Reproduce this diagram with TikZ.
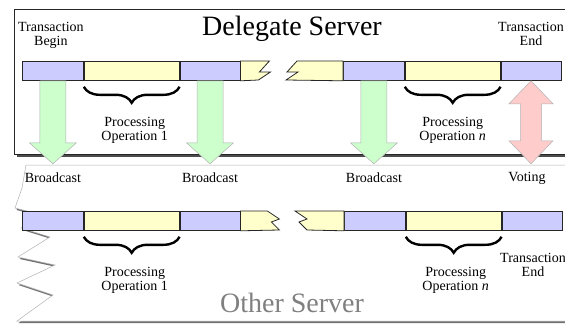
\documentclass[tikz,border=0pt]{standalone}
\usepackage{fontspec}
\setmainfont{Liberation Serif}
\usetikzlibrary{calc,decorations.pathreplacing,positioning}

\definecolor{opblue}{RGB}{204,204,255}
\definecolor{opyellow}{RGB}{255,255,204}
\definecolor{bcgreen}{RGB}{204,255,204}
\definecolor{votered}{RGB}{255,204,204}

% block arrow hanging below a bar segment: #1 segment, #2 name of the tip
\newcommand\sendarrow[2]{
  \filldraw[bcast] ($(#1.south)+(-13,0)$) -- ++(0,62) -- ++(-10.5,0)
    -- ++(23.5,21) coordinate (#2) -- ++(23.5,-21) -- ++(-10.5,0) -- ++(0,-62) -- cycle;
}

\begin{document}
\begin{tikzpicture}[x=1pt,y=-1pt]
  \tikzstyle{seg} = [draw=black!85,line width=0.8pt,inner sep=0,minimum height=19pt,anchor=north west]
  \tikzstyle{op} = [seg,fill=opyellow,minimum width=95pt]
  \tikzstyle{sync} = [seg,fill=opblue,minimum width=60pt]
  \tikzstyle{torn} = [draw=black!85,line width=0.8pt,fill=opyellow]
  \tikzstyle{brace} = [decorate,decoration={brace,amplitude=16pt},line width=2.4pt]
  \tikzstyle{lbl} = [inner sep=0,align=center,font=\fontsize{14}{14}\selectfont]
  \tikzstyle{title} = [inner sep=0,anchor=base,font=\fontsize{28}{30}\selectfont]
  \tikzstyle{bcast} = [fill=bcgreen,draw=black!30,line width=0.5pt]
  \tikzstyle{vote} = [fill=votered,draw=black!30,line width=0.5pt]

  \clip (0,0) rectangle (565,324);

  % other server, torn along the left side
  \filldraw[fill=white,draw=black!30,line width=0.5pt,
    preaction={fill=black!55,transform canvas={xshift=1.5pt,yshift=-2pt}}]
    (580,165) -- (26,165) -- (22,188) -- (15,208) -- (47,216) -- (21,228) -- (50,237)
    -- (18,257) -- (55,265) -- (17,283) -- (53,295) -- (17,321) -- (580,321) -- cycle;

  % delegate server
  \filldraw[fill=white,draw=black!85,line width=0.8pt,
    preaction={fill=black!70,transform canvas={xshift=3pt,yshift=-3pt}}]
    (14,9) rectangle (580,154);

  \node[title] (dlg) at (292,35) {Delegate Server};
  \node[title,text=black!50] (oth) at (292,312) {Other Server};

  % delegate time line
  \node[sync,minimum width=61pt] (tb1) at (22,61) {};
  \node[op,right=0pt of tb1] (ty1) {};
  \node[sync,right=0pt of ty1] (tb2) {};
  \filldraw[torn] (tb2.north east) -- ++(29,0) -- ++(-10,11) -- ++(11,0) -- ++(-12,8) -- (tb2.south east) -- cycle;
  \node[sync,minimum width=61pt] (tb3) at (343,61) {};
  \filldraw[torn] (tb3.north west) -- ++(-46,0) -- ++(-10,11) -- ++(11,0) -- ++(-12,8) -- (tb3.south west) -- cycle;
  \node[op,right=0pt of tb3] (ty2) {};
  \node[sync,right=0pt of ty2] (tb4) {};

  % other time line
  \node[sync,minimum width=61pt] (bb1) at (22,211) {};
  \node[op,right=0pt of bb1] (by1) {};
  \node[sync,right=0pt of by1] (bb2) {};
  \filldraw[torn] (bb2.north east) -- ++(27,0) -- ++(12,8) -- ++(-8,3) -- ++(8,8) -- (bb2.south east) -- cycle;
  \node[sync,minimum width=61pt] (bb3) at (344,211) {};
  \filldraw[torn] (bb3.north west) -- ++(-49,0) -- ++(12,8) -- ++(-8,3) -- ++(8,8) -- (bb3.south west) -- cycle;
  \node[op,right=0pt of bb3] (by2) {};
  \node[sync,right=0pt of by2] (bb4) {};

  \draw[brace] ($(ty1.south east)+(0,6)$) -- ($(ty1.south west)+(0,6)$);
  \draw[brace] ($(ty2.south east)+(0,6)$) -- ($(ty2.south west)+(0,6)$);
  \draw[brace] ($(by1.south east)+(0,6)$) -- ($(by1.south west)+(0,6)$);
  \draw[brace] ($(by2.south east)+(0,6)$) -- ($(by2.south west)+(0,6)$);

  \node[lbl,below=36pt of ty1,xshift=3pt] (op1) {Processing\\Operation 1};
  \node[lbl,below=36pt of ty2] (opn) {Processing\\Operation \textit{n}};
  \node[lbl,below=36pt of by1,xshift=3pt] (lop1) {Processing\\Operation 1};
  \node[lbl,below=36pt of by2,xshift=2pt] (lopn) {Processing\\Operation \textit{n}};

  \node[lbl,above=12pt of tb1,xshift=-2pt] (tbegin) {Transaction\\Begin};
  \node[lbl,above=15pt of tb4] (tend) {Transaction\\End};
  \node[lbl,below=22.5pt of bb4,xshift=1pt] (lend) {Transaction\\End};

  % broadcasts and the final vote
  \sendarrow{tb1}{bc1}
  \sendarrow{tb2}{bc2}
  \sendarrow{tb3}{bc3}
  \filldraw[vote] (tb4.south) -- ++(22,23) -- ++(-11.5,0) -- ++(0,37) -- ++(11.5,0)
    -- ++(-22,23) coordinate (vt) -- ++(-22,-23) -- ++(11.5,0) -- ++(0,-37) -- ++(-11.5,0) -- cycle;

  \node[lbl,below=9pt of bc1] (lb1) {Broadcast};
  \node[lbl,below=9pt of bc2] (lb2) {Broadcast};
  \node[lbl,below=9pt of bc3] (lb3) {Broadcast};
  \node[lbl,below=8pt of vt,xshift=-4pt] (lvote) {Voting};
\end{tikzpicture}
\end{document}
